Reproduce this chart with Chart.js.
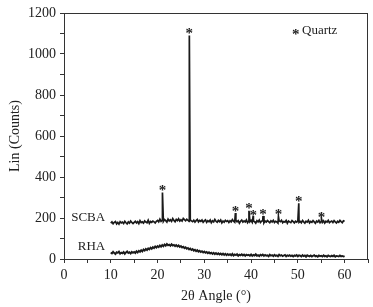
<!DOCTYPE html>
<html>
<head>
<meta charset="utf-8">
<script src="https://cdn.jsdelivr.net/npm/chart.js@4.4.1/dist/chart.umd.min.js"></script>
<style>
  html, body { margin: 0; padding: 0; background: #fff; }
  canvas { display: block; }
</style>
</head>
<body>
<canvas id="myChart" width="373" height="307"></canvas>
<script>
// 측정 구간 (2θ, 0.25° 간격)
const angleStart = 10;
const angleStep = 0.25;

// SCBA 바탕선 (10° ~ 60°)
const scbaCounts = [
  175,181,172,179,183,171,178,170,182,176,180,173,184,177,171,181,175,185,178,173,
  179,184,176,182,173,187,178,181,175,186,180,177,189,174,183,179,185,181,176,184,
  188,181,194,184,190,183,192,187,180,195,186,191,184,197,188,182,193,187,196,185,
  191,185,198,192,187,194,189,183,191,186,182,189,180,187,193,181,188,184,190,179,
  186,191,179,187,182,190,177,186,181,193,184,179,188,182,190,176,185,180,189,183,
  187,178,186,181,192,184,179,189,182,187,175,184,190,180,186,181,191,177,185,182,
  188,179,186,182,175,187,181,190,178,184,189,176,185,180,188,182,177,186,181,189,
  178,184,181,175,186,182,189,177,183,180,188,174,185,181,178,187,182,176,184,180,
  186,179,183,177,188,181,175,184,180,189,176,183,179,187,181,174,185,180,188,177,
  183,179,186,175,184,180,188,177,182,185,178,187,181,176,184,179,188,182,177,186,
  184
];

// SCBA 석영 피크
const peakAngle  = [21.05, 26.8, 36.65, 39.55, 40.45, 42.55, 45.85, 50.2, 55.05];
const peakCounts = [324, 1090, 224, 235, 210, 210, 207, 272, 196];

// 피크 위 별표 위치
const starCounts = [357, 1121, 255, 269, 235, 240, 240, 303, 225];

// RHA (10° ~ 60°)
const rhaCounts = [
  32,27,35,29,24,33,30,36,26,31,28,34,25,32,37,29,33,27,35,30,
  34,29,38,32,40,35,43,37,46,41,49,44,52,47,55,50,58,53,61,56,
  63,58,66,60,68,62,71,65,73,67,70,64,72,66,69,63,68,61,66,59,
  63,56,60,53,57,50,54,47,51,44,48,41,45,38,43,36,40,34,38,32,
  36,30,34,28,33,27,31,25,30,24,29,23,28,22,27,21,26,20,25,19,
  24,19,23,18,25,17,22,19,24,16,21,18,23,17,22,15,21,18,20,16,
  22,15,20,17,23,16,19,14,21,17,22,15,20,16,18,13,21,16,19,14,
  20,15,18,13,21,16,19,14,17,20,13,18,15,19,14,17,12,18,15,19,
  13,18,16,12,19,14,17,11,18,15,13,17,12,16,19,13,15,11,17,14,
  16,12,18,13,15,11,17,14,12,16,13,18,11,15,14,12,17,13,15,12,
  14
];

// 축 눈금
const xTicks = [0, 10, 20, 30, 40, 50, 60];
const yTicks = [0, 200, 400, 600, 800, 1000, 1200];

// 시료 이름 (라벨 위치는 데이터 좌표)
const sampleNames = ['SCBA', 'RHA'];
const nameAngle = [8.8, 8.8];
const nameCounts = [201, 60];

const FONT = "'Liberation Serif', 'Times New Roman', serif";
const INK = '#222';

function toPoints(counts) {
  return counts.map((c, i) => ({ x: angleStart + i * angleStep, y: c }));
}

let scbaPoints = toPoints(scbaCounts);
peakAngle.forEach((a, i) => scbaPoints.push({ x: a, y: peakCounts[i] }));
scbaPoints.sort((p, q) => p.x - q.x);

// 테두리, 별표, 글자 그리기
const decorPlugin = {
  id: 'decor',
  afterDraw(chart) {
    const { ctx, chartArea, scales } = chart;
    const xs = scales.x, ys = scales.y;
    ctx.save();
    ctx.strokeStyle = '#333';
    ctx.lineWidth = 1;
    ctx.strokeRect(chartArea.left + 0.5, chartArea.top + 0.5,
      chartArea.right - chartArea.left - 1, chartArea.bottom - chartArea.top);

    ctx.fillStyle = INK;
    ctx.textAlign = 'center';
    ctx.textBaseline = 'alphabetic';
    ctx.font = 'bold 15px ' + FONT;
    peakAngle.forEach((a, i) => {
      ctx.fillText('*', xs.getPixelForValue(a), ys.getPixelForValue(starCounts[i]) + 9);
    });

    // 범례
    ctx.textAlign = 'left';
    ctx.fillText('*', chartArea.right - 76, chartArea.top + 26);
    ctx.font = '13px ' + FONT;
    ctx.textBaseline = 'middle';
    ctx.fillText('Quartz', chartArea.right - 66, chartArea.top + 18);

    ctx.textAlign = 'right';
    sampleNames.forEach((n, i) => {
      ctx.fillText(n, xs.getPixelForValue(nameAngle[i]), ys.getPixelForValue(nameCounts[i]));
    });
    ctx.restore();
  }
};

let config = {
  type: 'line',
  data: {
    datasets: [
      {
        label: 'SCBA',
        data: scbaPoints,
        borderColor: '#1a1a1a',
        borderWidth: 1.7,
        pointRadius: 0,
        tension: 0
      },
      {
        label: 'RHA',
        data: toPoints(rhaCounts),
        borderColor: '#1a1a1a',
        borderWidth: 1.9,
        pointRadius: 0,
        tension: 0
      }
    ]
  },
  options: {
    responsive: false,
    animation: false,
    devicePixelRatio: 1,
    layout: { padding: { top: 13, right: 5, left: 0, bottom: 0 } },
    plugins: { legend: { display: false }, tooltip: { enabled: false } },
    scales: {
      x: {
        type: 'linear',
        min: 0,
        max: 65,
        afterFit(s) { s.height = 48; },
        afterBuildTicks(s) {
          const t = [];
          for (let v = 0; v <= 65; v += 5) t.push({ value: v });
          s.ticks = t;
        },
        ticks: {
          autoSkip: false,
          maxRotation: 0,
          padding: 4,
          color: INK,
          font: { family: FONT, size: 14 },
          callback: v => xTicks.includes(v) ? v : ''
        },
        grid: { drawOnChartArea: false, tickLength: 4, color: '#333' },
        border: { display: true, color: '#333' },
        title: {
          display: true,
          text: '2θ Angle (°)',
          color: INK,
          font: { family: FONT, size: 14 },
          padding: { top: 0, bottom: 2 }
        }
      },
      y: {
        min: 0,
        max: 1200,
        afterFit(s) { s.width = 64; },
        afterBuildTicks(s) {
          const t = [];
          for (let v = 0; v <= 1200; v += 100) t.push({ value: v });
          s.ticks = t;
        },
        ticks: {
          autoSkip: false,
          padding: 4,
          color: INK,
          font: { family: FONT, size: 14 },
          callback: v => yTicks.includes(v) ? v : ''
        },
        grid: { drawOnChartArea: false, tickLength: 4, color: '#333' },
        border: { display: true, color: '#333' },
        title: {
          display: true,
          text: 'Lin (Counts)',
          color: INK,
          font: { family: FONT, size: 14 },
          padding: { top: 7, bottom: 0 }
        }
      }
    }
  },
  plugins: [decorPlugin]
};

let myChart = new Chart(document.getElementById('myChart'), config);
</script>
</body>
</html>
